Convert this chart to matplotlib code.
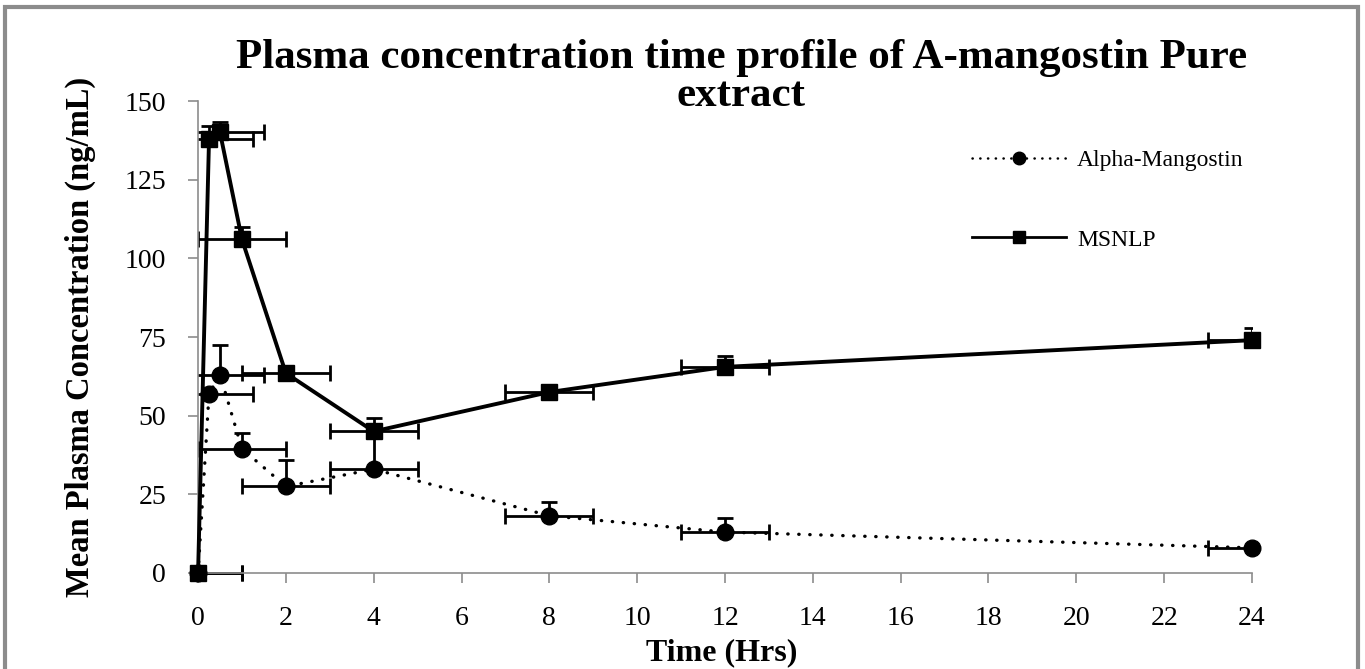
import matplotlib.pyplot as plt
from matplotlib.lines import Line2D
from matplotlib.patches import Rectangle
from matplotlib.transforms import Bbox, TransformedBbox
import numpy as np

# time points (hours)
time = [0, 0.25, 0.5, 1, 2, 4, 8, 12, 24]

# mean plasma concentration (ng/mL)
alpha_mean = [0, 57, 63, 39.5, 27.5, 33, 18.2, 13, 8]
msnlp_mean = [0, 138, 140, 106, 63.5, 45, 57.5, 65.5, 74]

# upper error only (Excel "plus" direction)
alpha_err = [0, 0, 9.5, 5, 8.5, 12, 4.5, 4.5, 0]
msnlp_err = [0, 4, 3.4, 4, 0, 4.2, 0, 3.5, 3.8]

# horizontal error (hours)
time_err = [1, 1, 1, 1, 1, 1, 1, 1, 1]

x_ticks = list(range(0, 25, 2))
y_ticks = [0, 25, 50, 75, 100, 125, 150]

plt.rcParams['font.family'] = ['Liberation Serif', 'DejaVu Serif']

fig = plt.figure(figsize=(13.65, 6.69), dpi=100)
ax = fig.add_axes([0.1451, 0.1435, 0.9172 - 0.1451, 0.849 - 0.1435])

#clip only left/right like excel does
clip = TransformedBbox(Bbox([[0, -0.1], [1, 1.1]]), ax.transAxes)

#error bars first
for mean, err in [(alpha_mean, alpha_err), (msnlp_mean, msnlp_err)]:
    yerr = np.array([np.zeros(len(err)), err])
    cont = ax.errorbar(time, mean, yerr=yerr, xerr=time_err, fmt='none', ecolor='black',
                       elinewidth=2, capsize=6, capthick=2, zorder=2)
    for art in list(cont.lines[1]) + list(cont.lines[2]):
        art.set_clip_box(clip)

ax.plot(time, alpha_mean, color='black', linewidth=2.4, linestyle=(0, (0.1, 3.2)),
        dash_capstyle='round', marker='o', markersize=12, clip_on=False, zorder=3)
ax.plot(time, msnlp_mean, color='black', linewidth=2.8, linestyle='-',
        marker='s', markersize=12, clip_on=False, zorder=4)

ax.set_xlim(0, 24)
ax.set_ylim(0, 150)
ax.set_xticks(x_ticks)
ax.set_yticks(y_ticks)

for s in ['top', 'right']:
    ax.spines[s].set_visible(False)
for s in ['left', 'bottom']:
    ax.spines[s].set_color('#8c8c8c')
    ax.spines[s].set_linewidth(1.2)

ax.tick_params(axis='both', direction='out', color='#8c8c8c', width=1.2, length=7,
               labelsize=20)
ax.tick_params(axis='y', pad=16)
ax.tick_params(axis='x', pad=17)

ax.set_xlabel('Time (Hrs)', fontsize=23, fontweight='bold')
ax.set_ylabel('Mean Plasma Concentration (ng/mL)', fontsize=23.5, fontweight='bold')
ax.yaxis.set_label_coords(-0.097, 0.5)
ax.xaxis.set_label_coords(0.497, -0.138)

fig.text(0.543, 0.942, 'Plasma concentration time profile of A-mangostin Pure\nextract',
         ha='center', va='top', fontsize=31, fontweight='bold', linespacing=1.02)

handles = [
    Line2D([], [], color='black', linewidth=1.8, linestyle=(0, (0.1, 3)),
           dash_capstyle='round', marker='o', markersize=9),
    Line2D([], [], color='black', linewidth=2, linestyle='-', marker='s', markersize=8),
]
ax.legend(handles, ['Alpha-Mangostin', 'MSNLP'], loc='upper left',
          bbox_to_anchor=(0.712, 0.776), bbox_transform=fig.transFigure,
          frameon=False, fontsize=17, handlelength=4.0, handletextpad=0.45,
          labelspacing=2.45, borderpad=0, borderaxespad=0)

# grey chart-area border
fig.patches.append(Rectangle((0.004, -0.01), 0.991, 1.0, transform=fig.transFigure,
                             fill=False, edgecolor='#8c8c8c', linewidth=3))

fig.savefig('out.png', dpi=100)
